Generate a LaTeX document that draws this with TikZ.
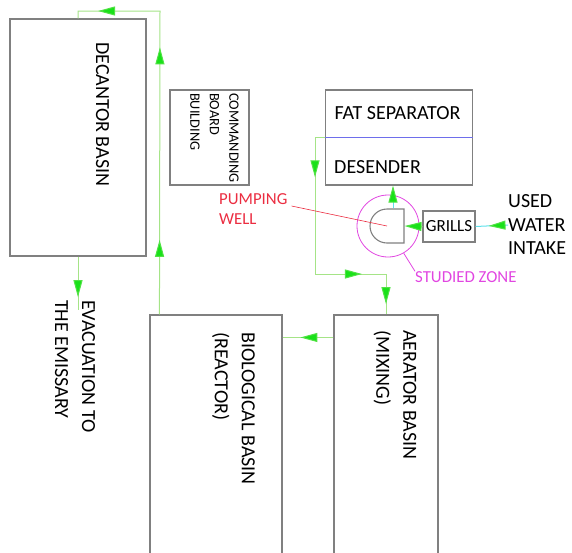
\documentclass[tikz,border=0pt]{standalone}
\usepackage{fontspec}
\setmainfont{Carlito}
\usetikzlibrary{arrows.meta, positioning, decorations.markings, shapes.misc}

\definecolor{pipegreen}{RGB}{165,228,135}
\definecolor{tipgreen}{RGB}{25,225,25}
\definecolor{wallgray}{RGB}{128,128,128}
\definecolor{intakecyan}{RGB}{95,225,235}
\definecolor{zonemagenta}{RGB}{225,70,225}
\definecolor{wellred}{RGB}{235,45,65}
\definecolor{splitblue}{RGB}{110,110,235}

\begin{document}
\begin{tikzpicture}[
    x=1pt, y=-1pt,
    basin/.style={rectangle, draw=wallgray, line width=1.1pt, inner sep=0pt},
    caption/.style={inner sep=0pt, align=left, font=\fontsize{20}{27}\selectfont},
    sidecaption/.style={caption, rotate=-90, anchor=west},
    flowtip/.tip={Triangle[length=17pt, width=9pt, fill=tipgreen, color=tipgreen!60!pipegreen]},
    pipe/.style={draw=pipegreen, line width=1pt},
    flowat/.style={postaction={decorate, decoration={markings, mark=at position #1 with {\arrow{flowtip}}}}}
]
    \useasboundingbox (0,0) rectangle (572,552);
    \clip (0,0) rectangle (572,552);

    % basins and buildings
    \node[basin, minimum width=136, minimum height=237] (decantor) at (78,137.5) {};
    \node[basin, minimum width=79, minimum height=95] (board) at (209.5,137.5) {};
    \node[basin, minimum width=147, minimum height=95] (fatsep) at (399,137.5) {};
    \node[basin, minimum width=132, minimum height=260] (bio) at (216,445) {};
    \node[basin, minimum width=104, minimum height=260] (aerator) at (386,445) {};
    \node[basin, minimum width=52, minimum height=31, font=\fontsize{17}{20}\selectfont] (grills) at (449,226.5) {GRILLS};
    \draw[splitblue, line width=0.6pt] (fatsep.west) -- (fatsep.east);

    % studied zone and pumping well
    \node[circle, draw=zonemagenta, line width=0.8pt, minimum size=62, inner sep=0pt] (zone) at (388,226) {};
    \node[rounded rectangle, rounded rectangle right arc=none, draw=wallgray, line width=1.1pt,
          minimum width=32, minimum height=34, inner sep=0pt] (well) at (387,226) {};

    % texts
    \node[sidecaption] (decantor-label) at (102.5,42) {DECANTOR BASIN};
    \node[sidecaption, font=\fontsize{14.3}{19.5}\selectfont] (board-label) at (214.5,93) {COMMANDING\\BOARD\\BUILDING};
    \node[sidecaption] (bio-label) at (233.5,332) {BIOLOGICAL BASIN\\(REACTOR)};
    \node[sidecaption] (aerator-label) at (395,330) {AERATOR BASIN\\(MIXING)};
    \node[sidecaption] (evac) at (75,300) {EVACUATION TO\\THE EMISSARY};
    \node[caption] (fatsep-label) at (397.5,113) {FAT SEPARATOR};
    \node[caption, anchor=west] (desender-label) at (334,167) {DESENDER};
    \node[caption, anchor=west, font=\fontsize{20}{23.5}\selectfont] (intake) at (508,225) {USED\\WATER\\INTAKE};
    \node[caption, anchor=west, text=wellred, font=\fontsize{16.8}{20}\selectfont] (pump) at (219,209) {PUMPING\\WELL};
    \node[caption, anchor=west, text=zonemagenta, font=\fontsize{16.8}{19}\selectfont] (zone-label) at (415,277) {STUDIED ZONE};

    % flows
    \coordinate (top-bend) at (160,11);
    \coordinate (sep-bend) at (315,274);
    \coordinate (outfall) at (78,310);
    \draw[pipe, flowat=0.19, flowat=0.68, flowat=0.93] ([xshift=10pt]bio.north west) -- (top-bend) -| (decantor.north);
    \draw[pipe, flowat=0.193, flowat=0.75, flowat=0.96] (fatsep.west) -| (sep-bend) -| (aerator.north);
    \draw[pipe, flowat=0.65] ([yshift=-23pt]aerator.north west) -- ([yshift=-23pt]bio.north east);
    \draw[pipe, flowat=0.76] (decantor.south) -- (outfall);
    \draw[draw=intakecyan, line width=1pt, -{flowtip}] ([xshift=6pt]well.north) -- ([xshift=6pt]well.north |- fatsep.south);
    \draw[pipe, -{flowtip}] (grills.west) -- (well.east);
    \draw[draw=intakecyan, line width=1pt, flowat=0.6] (intake.west) -- (grills.east);

    % leaders
    \draw[wellred, line width=0.6pt] ([shift={(4pt,3pt)}]pump.east) -- (well.center);
    \draw[zonemagenta, line width=0.8pt] (zone.-60) -- (zone-label.north west);
\end{tikzpicture}
\end{document}
